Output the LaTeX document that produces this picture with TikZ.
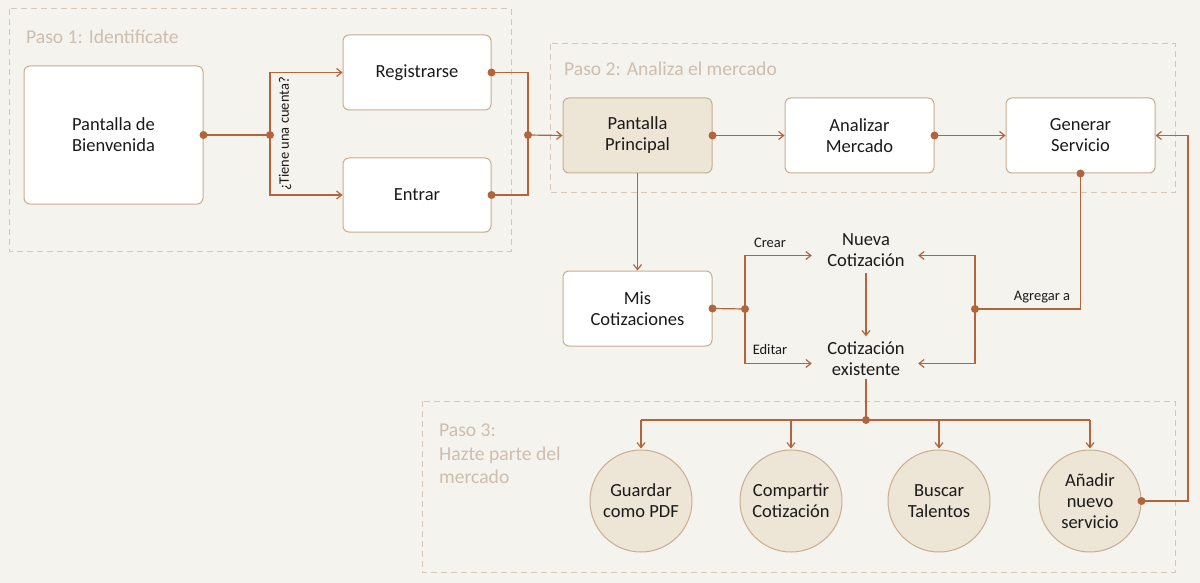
\documentclass[tikz,border=0pt]{standalone}
\usepackage{fontspec}
\setmainfont{Carlito}
\usetikzlibrary{arrows.meta,shapes.geometric,calc}
\definecolor{bg}{HTML}{F5F3EE}
\definecolor{linec}{HTML}{B2643A}
\definecolor{boxb}{HTML}{C9AD90}
\definecolor{beige}{HTML}{EDE5D5}
\definecolor{framec}{HTML}{D3C7BC}
\definecolor{steptxt}{HTML}{CDBEAE}
\definecolor{txt}{HTML}{1A1A1A}
\begin{document}
\begin{tikzpicture}[x=1pt,y=-1pt,
  box/.style={draw=boxb, line width=1pt, fill=white, rounded corners=6pt, align=center,
    font=\fontsize{18.5}{21}\selectfont, text=txt, inner sep=0pt},
  circ/.style={circle, draw=boxb, line width=1pt, fill=beige, minimum size=102pt, inner sep=0pt,
    align=center, font=\fontsize{18.5}{21}\selectfont, text=txt},
  free/.style={align=center, font=\fontsize{18.5}{21}\selectfont, text=txt, inner sep=0pt, minimum width=104pt},
  conn/.style={draw=linec, line width=1.2pt, -{Straight Barb[length=5pt,width=8pt]}},
  plain/.style={draw=linec, line width=1.2pt},
  frm/.style={draw=framec, dash pattern=on 6pt off 4pt, line width=1pt},
  lbl/.style={font=\fontsize{14.5}{16}\selectfont, text=txt, inner sep=0pt},
  steplbl/.style={text=steptxt, font=\fontsize{19.6}{23.5}\selectfont, anchor=west, align=left, inner sep=0pt},
  dot/.style={fill=linec}
]
\useasboundingbox[fill=bg] (0,0) rectangle (1200,583);

% frames
\draw[frm] (9,9) rectangle (511,251);
\draw[frm] (550,44) rectangle (1175,193);
\draw[frm] (422,401) rectangle (1175,572);

\node[steplbl] (s1) at (26,37) {Paso 1: Identifícate};
\node[steplbl] (s2) at (564,69) {Paso 2: Analiza el mercado};
\node[steplbl, anchor=north west] (s3) at (439,424) {Paso 3:\\Hazte parte del\\mercado};

% boxes
\node[box, minimum width=179pt, minimum height=138pt] (bienv) at (113.5,135) {Pantalla de\\Bienvenida};
\node[box, minimum width=148pt, minimum height=75pt] (reg) at (417,72.5) {Registrarse};
\node[box, minimum width=148pt, minimum height=74pt] (ent) at (417,195) {Entrar};
\node[box, fill=beige, minimum width=149pt, minimum height=75pt] (pp) at (637.5,135.5) {Pantalla\\Principal};
\node[box, minimum width=149pt, minimum height=75pt] (am) at (859.5,135.5) {Analizar\\Mercado};
\node[box, minimum width=149pt, minimum height=75pt] (gs) at (1080.5,135.5) {Generar\\Servicio};
\node[box, minimum width=149pt, minimum height=75pt] (mc) at (637.5,308.5) {Mis\\Cotizaciones};

\node[free] (nc) at (866,250.5) {Nueva\\Cotización};
\node[free] (ce) at (866,358.5) {Cotización\\existente};

\node[circ] (c1) at (641,501) {Guardar\\como PDF};
\node[circ] (c2) at (791,501) {Compartir\\Cotización};
\node[circ] (c3) at (939,501) {Buscar\\Talentos};
\node[circ] (c4) at (1090,501) {Añadir\\nuevo\\servicio};

% coordinates
\coordinate (j1) at (270,135);
\coordinate (j2) at (528,135);
\coordinate (j3) at (975,309);
\coordinate (j4) at (745,309);
\coordinate (j5) at (866,420);
\coordinate (r) at (1188,501);

% step 1 connectors
\draw[plain] (bienv.east) -- (j1);
\draw[conn] (j1) |- (reg.west);
\draw[conn] (j1) |- (ent.west);
\node[lbl, rotate=90] (q) at (285,134) {¿Tiene una cuenta?};
\draw[plain] (reg.east) -| (j2);
\draw[plain] (ent.east) -| (j2);
\draw[conn] (j2) -- (pp.west);

% step 2
\draw[conn] (pp.east) -- (am.west);
\draw[conn] (am.east) -- (gs.west);
\draw[conn] (pp.south) -- (mc.north);

\draw[plain] (gs.south) |- (j3);
\draw[conn] (j3) |- ($(nc.east)+(0,5)$);
\draw[conn] (j3) |- ($(ce.east)+(0,5)$);
\node[lbl] (agr) at (1042,297) {Agregar a};

\draw[plain] (mc.east) -- (j4);
\draw[conn] (j4) |- ($(nc.west)+(-2,5)$);
\draw[conn] (j4) |- ($(ce.west)+(-2,5)$);
\node[lbl] (crear) at (770,243) {Crear};
\node[lbl] (editar) at (770,350) {Editar};

\draw[conn] ($(nc.south)+(0,6)$) -- ($(ce.north)+(0,-5)$);

% step 3
\draw[plain] ($(ce.south)+(0,3)$) -- (j5);
\draw[plain] (c1.north |- j5) -- (c4.north |- j5);
\draw[conn] (c1.north |- j5) -- ($(c1.north)+(0,-1)$);
\draw[conn] (c2.north |- j5) -- ($(c2.north)+(0,-1)$);
\draw[conn] (c3.north |- j5) -- ($(c3.north)+(0,-1)$);
\draw[conn] (c4.north |- j5) -- ($(c4.north)+(0,-1)$);

\draw[conn] (c4.east) -- (r) |- (gs.east);

% dots
\foreach \p in {bienv.east, j1, reg.east, ent.east, j2, pp.east, am.east, gs.south, j3, mc.east, j4, j5, c4.east}
  \fill[dot] (\p) circle[radius=4pt];
\end{tikzpicture}
\end{document}
